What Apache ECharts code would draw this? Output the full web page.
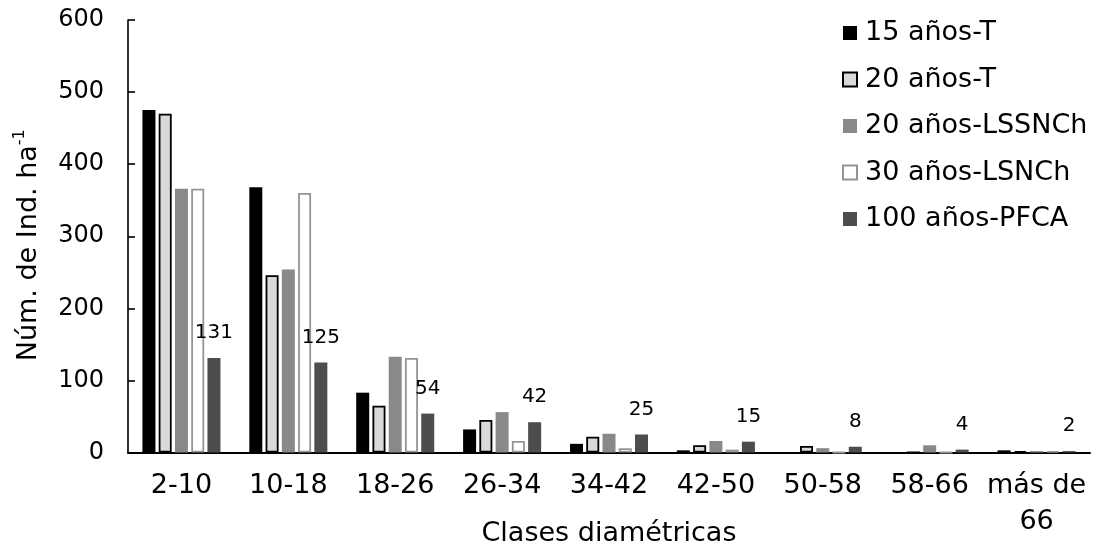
<!DOCTYPE html>
<html>
<head>
<meta charset="utf-8">
<script src="https://cdn.jsdelivr.net/npm/echarts@6/dist/echarts.min.js"></script>
<style>
html,body{margin:0;padding:0;background:#fff;}
#chart{width:1094px;height:543px;}
</style>
</head>
<body>
<div id="chart"></div>
<script>
var categories = ['2-10', '10-18', '18-26', '26-34', '34-42', '42-50', '50-58', '58-66', 'más de\n66'];
var seriesNames = ['15 años-T', '20 años-T', '20 años-LSSNCh', '30 años-LSNCh', '100 años-PFCA'];
var s15T      = [475, 368, 83, 32, 12, 3, 0, 0, 3];
var s20T      = [470, 246, 65, 45, 22, 10, 9, 0, 2];
var s20LSSNCh = [366, 254, 133, 56, 26, 16, 6, 10, 2];
var s30LSNCh  = [366, 360, 131, 16, 6, 4, 0, 0, 2];
var s100PFCA  = [131, 125, 54, 42, 25, 15, 8, 4, 2];
var yTicks = { min: 0, max: 600, interval: 100 };

var font = 'DejaVu Sans, Verdana, sans-serif';
var styles = [
  { color: '#000000', borderColor: '#000000', borderWidth: 0 },
  { color: '#d9d9d9', borderColor: '#000000', borderWidth: 1.8 },
  { color: '#898989', borderColor: '#898989', borderWidth: 0 },
  { color: '#ffffff', borderColor: '#959595', borderWidth: 1.8 },
  { color: '#4d4d4d', borderColor: '#4d4d4d', borderWidth: 0 }
];
var values = [s15T, s20T, s20LSSNCh, s30LSNCh, s100PFCA];

var series = values.map(function (v, i) {
  var s = {
    name: seriesNames[i],
    type: 'bar',
    data: v,
    barGap: '25%',
    barCategoryGap: '27%',
    itemStyle: styles[i],
    emphasis: { disabled: true }
  };
  if (i === 4) {
    s.label = {
      show: true,
      position: 'top',
      distance: 15,
      color: '#000',
      fontFamily: font,
      fontSize: 20
    };
  }
  return s;
});

var chart = echarts.init(document.getElementById('chart'), null, { renderer: 'canvas' });
chart.setOption({
  animation: false,
  backgroundColor: '#ffffff',
  grid: { left: 128, right: 4, top: 20, bottom: 90.5, outerBoundsMode: 'none', containLabel: false },
  legend: {
    orient: 'vertical',
    left: 837,
    top: 13,
    icon: 'rect',
    itemWidth: 14,
    itemHeight: 14,
    itemGap: 16.5,
    selectedMode: false,
    textStyle: { fontFamily: font, fontSize: 27, color: '#000', lineHeight: 30, padding: [0, 0, 0, 3] },
    data: seriesNames
  },
  xAxis: {
    type: 'category',
    data: categories,
    name: 'Clases diamétricas',
    nameLocation: 'middle',
    nameGap: 68,
    nameMoveOverlap: false,
    nameTextStyle: { fontFamily: font, fontSize: 27, color: '#000', lineHeight: 27 },
    axisLine: { show: true, lineStyle: { color: '#000', width: 2 } },
    axisTick: { show: false },
    axisLabel: { fontFamily: font, fontSize: 27, color: '#000', margin: 15, lineHeight: 36, interval: 0 },
    splitLine: { show: false }
  },
  yAxis: {
    type: 'value',
    min: yTicks.min,
    max: yTicks.max,
    interval: yTicks.interval,
    name: '{a|Núm. de Ind. ha}{b|-1}',
    nameLocation: 'middle',
    nameRotate: 90,
    nameGap: 86,
    nameMoveOverlap: false,
    nameTextStyle: {
      color: '#000',
      padding: [0, 18, 0, 0],
      rich: {
        a: { fontFamily: font, fontSize: 27, color: '#000', lineHeight: 30, verticalAlign: 'bottom' },
        b: { fontFamily: font, fontSize: 16, color: '#000', lineHeight: 16, verticalAlign: 'top' }
      }
    },
    axisLine: { show: true, lineStyle: { color: '#000', width: 1.6 } },
    axisTick: { show: true, inside: true, length: 7, lineStyle: { color: '#000', width: 1.6 } },
    axisLabel: { fontFamily: font, fontSize: 24, color: '#000', margin: 24 },
    splitLine: { show: false }
  },
  series: series
});
</script>
</body>
</html>
